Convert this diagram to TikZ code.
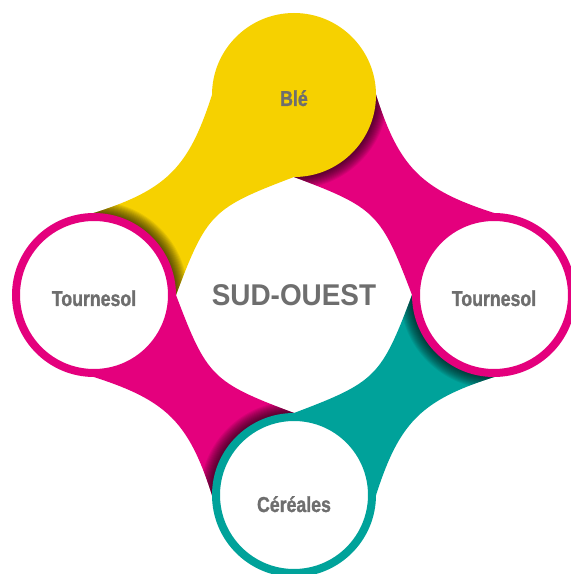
\documentclass[tikz,border=0pt]{standalone}
\usepackage{fontspec}
\setmainfont{Liberation Sans}
\newfontfamily\condfont[FakeStretch=0.82,FakeBold=1.2]{Liberation Sans}
\newfontfamily\titlefont[FakeStretch=0.93]{Liberation Sans}
\usepackage{tikz}

\definecolor{bleyellow}{HTML}{F6D100}
\definecolor{tourmagenta}{HTML}{E4007D}
\definecolor{certeal}{HTML}{00A29A}
\definecolor{labelgray}{HTML}{6E6E6E}

\tikzset{
  ring/.style={circle, draw=#1, line width=4pt, fill=white, minimum size=78pt, inner sep=0pt},
  disc/.style={circle, fill=#1, minimum size=82pt, inner sep=0pt},
  croplabel/.style={anchor=base, text=labelgray, font=\condfont\bfseries\fontsize{10.8}{12}\selectfont},
  regionlabel/.style={anchor=base, text=labelgray, font=\titlefont\bfseries\fontsize{15}{18}\selectfont}
}

% one band, from the circle at 90 to the circle at 180 (centre at origin)
\newcommand{\bandpath}{(-76,220) .. controls (-104,124) and (-124,104) .. (-220,76) -- (-200,0) -- (-118,0) .. controls (-87,82) and (-82,87) .. (0,118) -- (0,200) -- cycle}

\begin{document}
\begin{tikzpicture}[x=0.5pt, y=0.5pt]
                
    \useasboundingbox (0,0) rectangle (571,574);
    \clip (0,0) rectangle (571,574);
    \fill[white] (0,0) rectangle (571,574);

    \foreach \ang/\col in {0/bleyellow, -90/tourmagenta, 180/certeal, 90/tourmagenta} {
        \begin{scope}[shift={(294,279)}, rotate=\ang]
            \fill[\col] \bandpath;
            \begin{scope}
                \clip \bandpath;
                \foreach \k in {1,...,12}
                    \fill[black, fill opacity=0.065] (-200,0) circle (82+\k);
            \end{scope}
        \end{scope}
    }

    \node[disc=bleyellow] (ble) at (294,479) {};
    \node[ring=tourmagenta] (tourw) at (94,279) {};
    \node[ring=tourmagenta] (toure) at (494,279) {};
    \node[ring=certeal] (cer) at (294,79) {};

    \node[regionlabel] (sudouest) at (294,268) {SUD-OUEST};
    \node[croplabel] (blelbl) at ([yshift=-5.5pt]ble.center) {Blé};
    \node[croplabel] (tourwlbl) at ([yshift=-5.5pt]tourw.center) {Tournesol};
    \node[croplabel] (tourelbl) at ([yshift=-5.5pt]toure.center) {Tournesol};
    \node[croplabel] (cerlbl) at ([yshift=-8.5pt]cer.center) {Céréales};

\end{tikzpicture}
\end{document}
